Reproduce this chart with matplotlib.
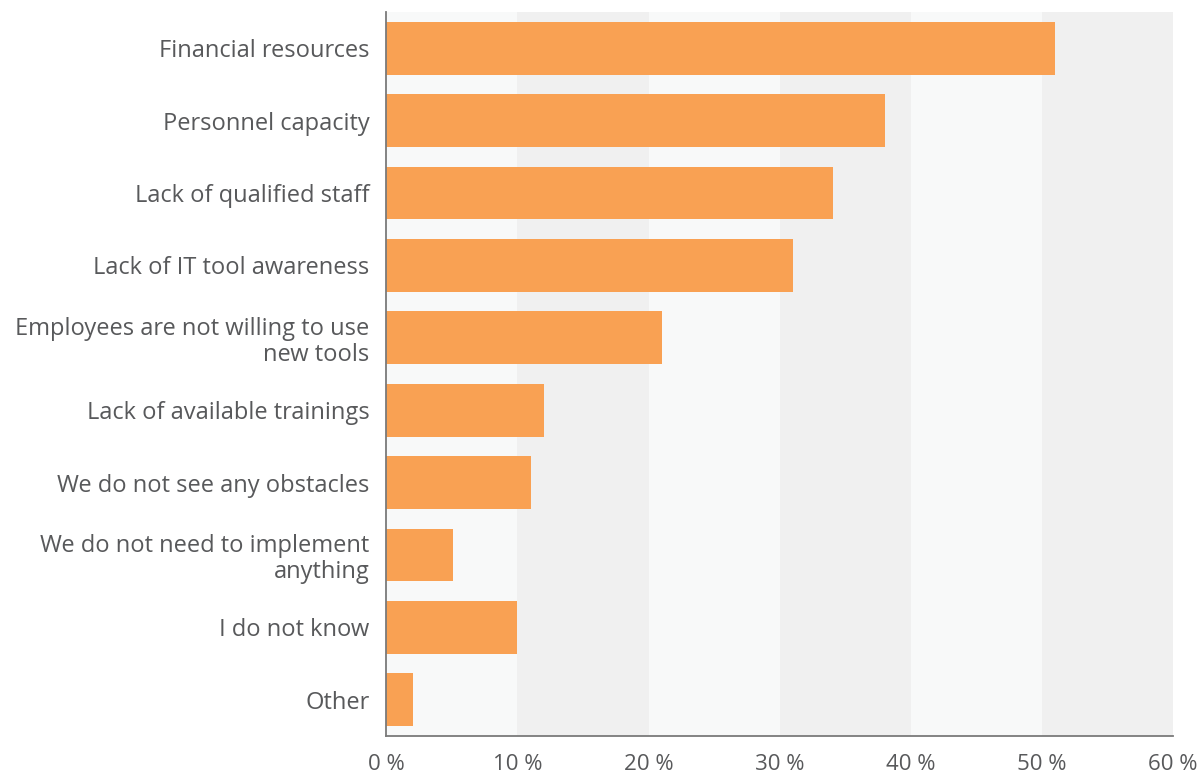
import os
import numpy as np
import matplotlib
matplotlib.use("Agg")
import matplotlib.pyplot as plt
from matplotlib.font_manager import FontProperties

# the static regular cut; the variable Open Sans file renders condensed
regular_path = "/usr/share/fonts/truetype/open-sans/OpenSans-Regular.ttf"
if os.path.exists(regular_path):
    label_font = FontProperties(fname=regular_path, size=17)
    tick_font = FontProperties(fname=regular_path, size=16)
else:
    label_font = FontProperties(family=['Open Sans', 'DejaVu Sans'], size=17)
    tick_font = FontProperties(family=['Open Sans', 'DejaVu Sans'], size=16)

# obstacles to adopting IT tools, share of respondents (%)
categories = [
    "Financial resources",
    "Personnel capacity",
    "Lack of qualified staff",
    "Lack of IT tool awareness",
    "Employees are not willing to use\nnew tools",
    "Lack of available trainings",
    "We do not see any obstacles",
    "We do not need to implement\nanything",
    "I do not know",
    "Other",
]
shares = [51.0, 38.0, 34.1, 31.0, 21.0, 12.0, 11.0, 5.1, 10.0, 2.0]
xticks = [0, 10, 20, 30, 40, 50, 60]
xtick_labels = [f"{t} %" for t in xticks]

bar_color = "#F9A153"
text_color = "#58595B"
band_light = "#F8F9F9"
band_dark = "#F0F0F0"

fig = plt.figure(figsize=(11.97, 7.75), dpi=100)
ax = fig.add_axes([386.3 / 1197, 1 - 736 / 775, (1173 - 386.3) / 1197, (736 - 12) / 775])

# alternating vertical bands every 10 %
for i in range(6):
    ax.axvspan(i * 10, (i + 1) * 10, color=band_light if i % 2 == 0 else band_dark,
               lw=0, zorder=0)

y = np.arange(len(categories))
ax.barh(y, shares, height=0.73, color=bar_color, zorder=2)

ax.set_xlim(0, 60)
ax.set_ylim(len(categories) - 0.5, -0.5)
ax.set_yticks(y)
ax.set_yticklabels(categories, fontproperties=label_font, color=text_color,
                   linespacing=1.1)
ax.set_xticks(xticks)
ax.set_xticklabels(xtick_labels, fontproperties=tick_font, color=text_color)
for lbl in ax.get_yticklabels():
    lbl.set_horizontalalignment('right')
ax.tick_params(axis='y', length=0, pad=12)
ax.tick_params(axis='x', length=0, pad=13)

for side in ['top', 'right']:
    ax.spines[side].set_visible(False)
for side in ['left', 'bottom']:
    ax.spines[side].set_color("#7A7A7A")
    ax.spines[side].set_linewidth(1.3)
    ax.spines[side].set_zorder(3)

fig.savefig("out.png", dpi=100, facecolor="white")
